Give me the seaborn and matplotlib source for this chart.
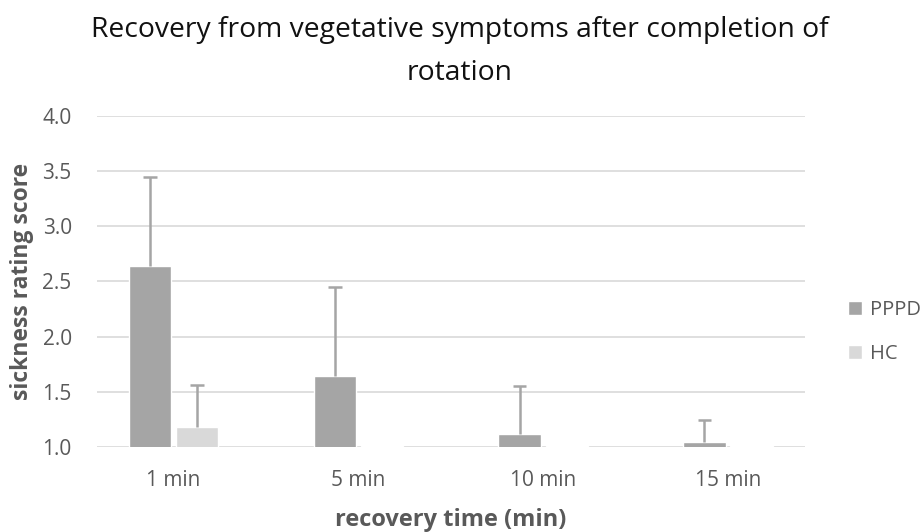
import numpy as np
import pandas as pd
import matplotlib
matplotlib.use('Agg')
import matplotlib.pyplot as plt
import seaborn as sns

# values
times = ['1 min', '5 min', '10 min', '15 min']
pppd_mean = [2.64, 1.64, 1.12, 1.04]
pppd_sd = [0.81, 0.81, 0.43, 0.20]
hc_mean = [1.18, 1.01, 1.01, 1.01]
hc_sd = [0.38, 0.0, 0.0, 0.0]
groups = ['PPPD', 'HC']
colours = ['#a5a5a5', '#d9d9d9']
text_col = '#595959'

df = pd.DataFrame({
    'time': times * 2,
    'group': ['PPPD'] * 4 + ['HC'] * 4,
    'score': pppd_mean + hc_mean,
    'sd': pppd_sd + hc_sd,
})

sns.set_theme(style='white')
plt.rcParams['font.family'] = ['Open Sans', 'DejaVu Sans']

fig = plt.figure(figsize=(9.21, 5.32), dpi=100)
ax = fig.add_axes([0.105, 0.16, 0.769, 0.622])

sns.barplot(data=df, x='time', y='score', hue='group', order=times,
            hue_order=groups, palette=colours, width=0.51, gap=0.1,
            errorbar=None, legend=True, ax=ax, zorder=3)

# upward-only error bars with a cap at the top, placed on the drawn bars
cap = 0.037
for cont, g in zip(ax.containers, groups):
    sub = df[df['group'] == g].set_index('time').loc[times]
    for p, m, s in zip(cont.patches, sub['score'], sub['sd']):
        if s <= 0:
            continue
        xc = p.get_x() + p.get_width() / 2
        ax.vlines(xc, m, m + s, color='#a5a5a5', linewidth=1.8, zorder=4)
        ax.hlines(m + s, xc - cap, xc + cap, color='#a5a5a5',
                  linewidth=1.8, zorder=4)

ax.set_ylim(1.0, 4.0)
ax.set_yticks(np.arange(1.0, 4.01, 0.5))
ax.set_yticklabels([f'{v:.1f}' for v in np.arange(1.0, 4.01, 0.5)])
ax.yaxis.grid(True, color='#d9d9d9', linewidth=1.2, zorder=0)
ax.set_axisbelow(True)
for s in ax.spines.values():
    s.set_visible(False)
ax.tick_params(axis='both', length=0, labelsize=15, colors=text_col)
ax.tick_params(axis='x', pad=17)
ax.tick_params(axis='y', pad=18)

ax.set_xlabel('recovery time (min)', fontsize=17, fontweight='bold',
              color=text_col, labelpad=12)
ax.set_ylabel('sickness rating score', fontsize=16.5, fontweight='bold',
              color=text_col, labelpad=6)
fig.suptitle('Recovery from vegetative symptoms after completion of\nrotation',
             fontsize=20.3, color='#111111', y=0.97, x=0.499, linespacing=1.72)

ax.legend(loc='center left', bbox_to_anchor=(1.035, 0.347), frameon=False,
          fontsize=14.5, handlelength=0.7, handleheight=0.7, labelspacing=1.2,
          handletextpad=0.4, labelcolor=text_col)

fig.savefig('out.png', dpi=100)
